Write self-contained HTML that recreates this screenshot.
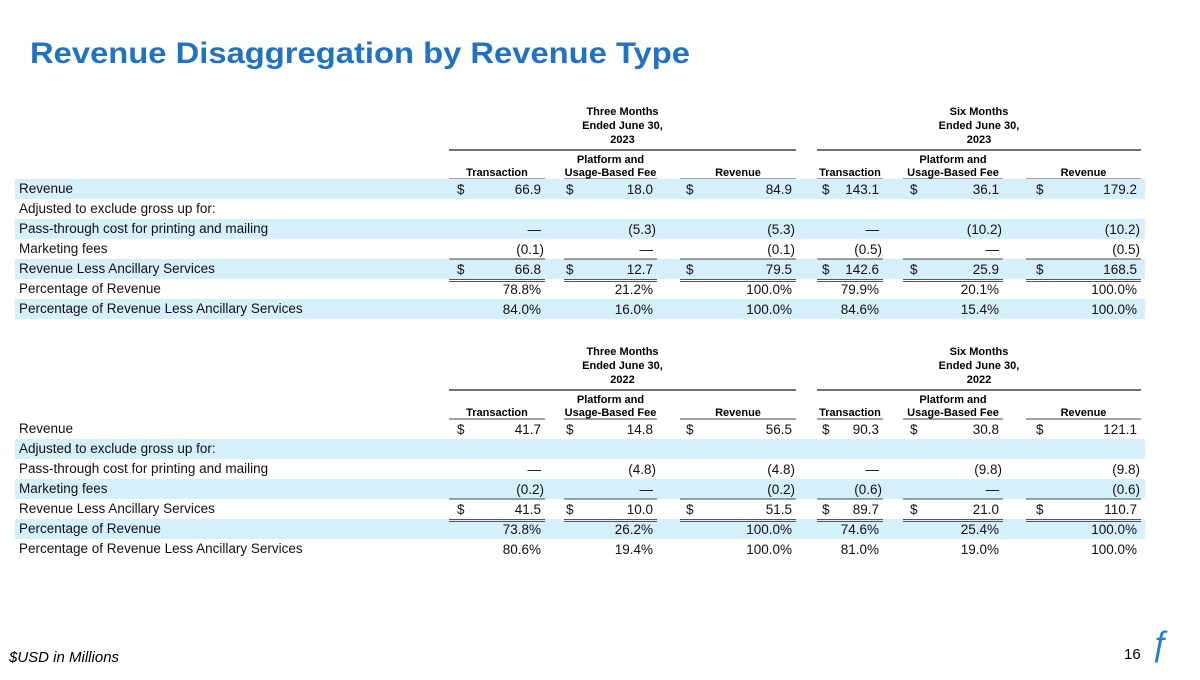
<!DOCTYPE html>
<html><head><meta charset="utf-8"><style>
body{margin:0;background:#fff;width:1200px;height:675px;overflow:hidden;font-family:"Liberation Sans",Arial,sans-serif}
svg text{font-family:"Liberation Sans",Arial,sans-serif}
</style></head><body>
<svg id="s" width="1200" height="675" xmlns="http://www.w3.org/2000/svg">
<text x="30" y="63" font-size="30" fill="#1f72c4" font-weight="bold" textLength="660" lengthAdjust="spacingAndGlyphs">Revenue Disaggregation by Revenue Type</text>
<text x="9" y="662" font-size="15" font-style="italic" fill="#000">$USD in Millions</text>
<text x="1124" y="659" font-size="15" fill="#000">16</text>
<text x="1150" y="655" font-size="34" fill="#1f7fd6" font-style="italic">ƒ</text>
<g id="g"></g>
</svg>
<script>
const rowLabels=["Revenue","Adjusted to exclude gross up for:","Pass-through cost for printing and mailing","Marketing fees","Revenue Less Ancillary Services","Percentage of Revenue","Percentage of Revenue Less Ancillary Services"];
const years=["2023","2022"];
const t2023=[["66.9","18.0","84.9","143.1","36.1","179.2"],["","","","","",""],["—","(5.3)","(5.3)","—","(10.2)","(10.2)"],["(0.1)","—","(0.1)","(0.5)","—","(0.5)"],["66.8","12.7","79.5","142.6","25.9","168.5"],["78.8%","21.2%","100.0%","79.9%","20.1%","100.0%"],["84.0%","16.0%","100.0%","84.6%","15.4%","100.0%"]];
const t2022=[["41.7","14.8","56.5","90.3","30.8","121.1"],["","","","","",""],["—","(4.8)","(4.8)","—","(9.8)","(9.8)"],["(0.2)","—","(0.2)","(0.6)","—","(0.6)"],["41.5","10.0","51.5","89.7","21.0","110.7"],["73.8%","26.2%","100.0%","74.6%","25.4%","100.0%"],["80.6%","19.4%","100.0%","81.0%","19.0%","100.0%"]];
const NS="http://www.w3.org/2000/svg";
const g=document.getElementById('g');
function mk(tag,attrs,txt){const e=document.createElementNS(NS,tag);for(const k in attrs)e.setAttribute(k,attrs[k]);if(txt!==undefined)e.textContent=txt;g.appendChild(e);return e;}
const cols=[{l:449,r:545,d:457},{l:564,r:657,d:566},{l:680,r:796,d:686},{l:817,r:883,d:822},{l:903,r:1003,d:910},{l:1026,r:1141,d:1036}];
const colNames=[["","Transaction"],["Platform and","Usage-Based Fee"],["","Revenue"]];
function table(top,data,year,shaded){
  [[449,796,"Three Months"],[817,1141,"Six Months"]].forEach(([a,b,n])=>{
    const c=(a+b)/2;
    let t=mk('text',{x:c,y:top+20,'font-size':11,'font-weight':'bold','text-anchor':'middle'},n);
    
    t=mk('text',{x:c,y:top+34,'font-size':11,'font-weight':'bold','text-anchor':'middle'},"Ended June 30,");
    
    t=mk('text',{x:c,y:top+48,'font-size':11,'font-weight':'bold','text-anchor':'middle'},year);
    
    mk('line',{x1:a,x2:b,y1:top+55,y2:top+55,stroke:'#444','stroke-width':1.5});
  });
  cols.forEach((c,i)=>{
    const nm=colNames[i%3],cx=(c.l+c.r)/2;
    if(nm[0]){const t=mk('text',{x:cx,y:top+68,'font-size':11,'font-weight':'bold','text-anchor':'middle'},nm[0]);}
    const t=mk('text',{x:cx,y:top+81,'font-size':11,'font-weight':'bold','text-anchor':'middle'},nm[1]);
    
    mk('line',{x1:c.l,x2:c.r,y1:top+84,y2:top+84,stroke:'#444','stroke-width':1});
  });
  const r0=top+84;
  rowLabels.forEach((lab,ri)=>{
    const y=r0+ri*20;
    if(shaded.includes(ri)){const b=mk('rect',{x:15,y:y,width:1130,height:20,fill:'#d5effb'});}
    const t=mk('text',{x:19,y:y+14,'font-size':13.5,fill:'#111'},lab);
    
    data[ri].forEach((v,ci)=>{
      if(!v)return;const c=cols[ci];
      const par=v.startsWith('(');
      const vt=mk('text',{x:par?c.r-1:c.r-4,y:y+15,'font-size':13.5,'text-anchor':'end',fill:'#111'},v);
      
      if(ri===0||ri===4){const d=mk('text',{x:c.d,y:y+15,'font-size':13.5,fill:'#111'},'$');}
    });
  });
  cols.forEach(c=>{
    const ya=r0+80;mk('line',{x1:c.l,x2:c.r,y1:ya,y2:ya,stroke:'#444','stroke-width':1});
    const yb=r0+100;mk('line',{x1:c.l,x2:c.r,y1:yb+0.5,y2:yb+0.5,stroke:'#555','stroke-width':1});
    mk('line',{x1:c.l,x2:c.r,y1:yb+2.5,y2:yb+2.5,stroke:'#555','stroke-width':1});
  });
}
table(95,t2023,"2023",[0,2,4,6]);
table(335,t2022,"2022",[1,3,5]);
</script>
</body></html>
